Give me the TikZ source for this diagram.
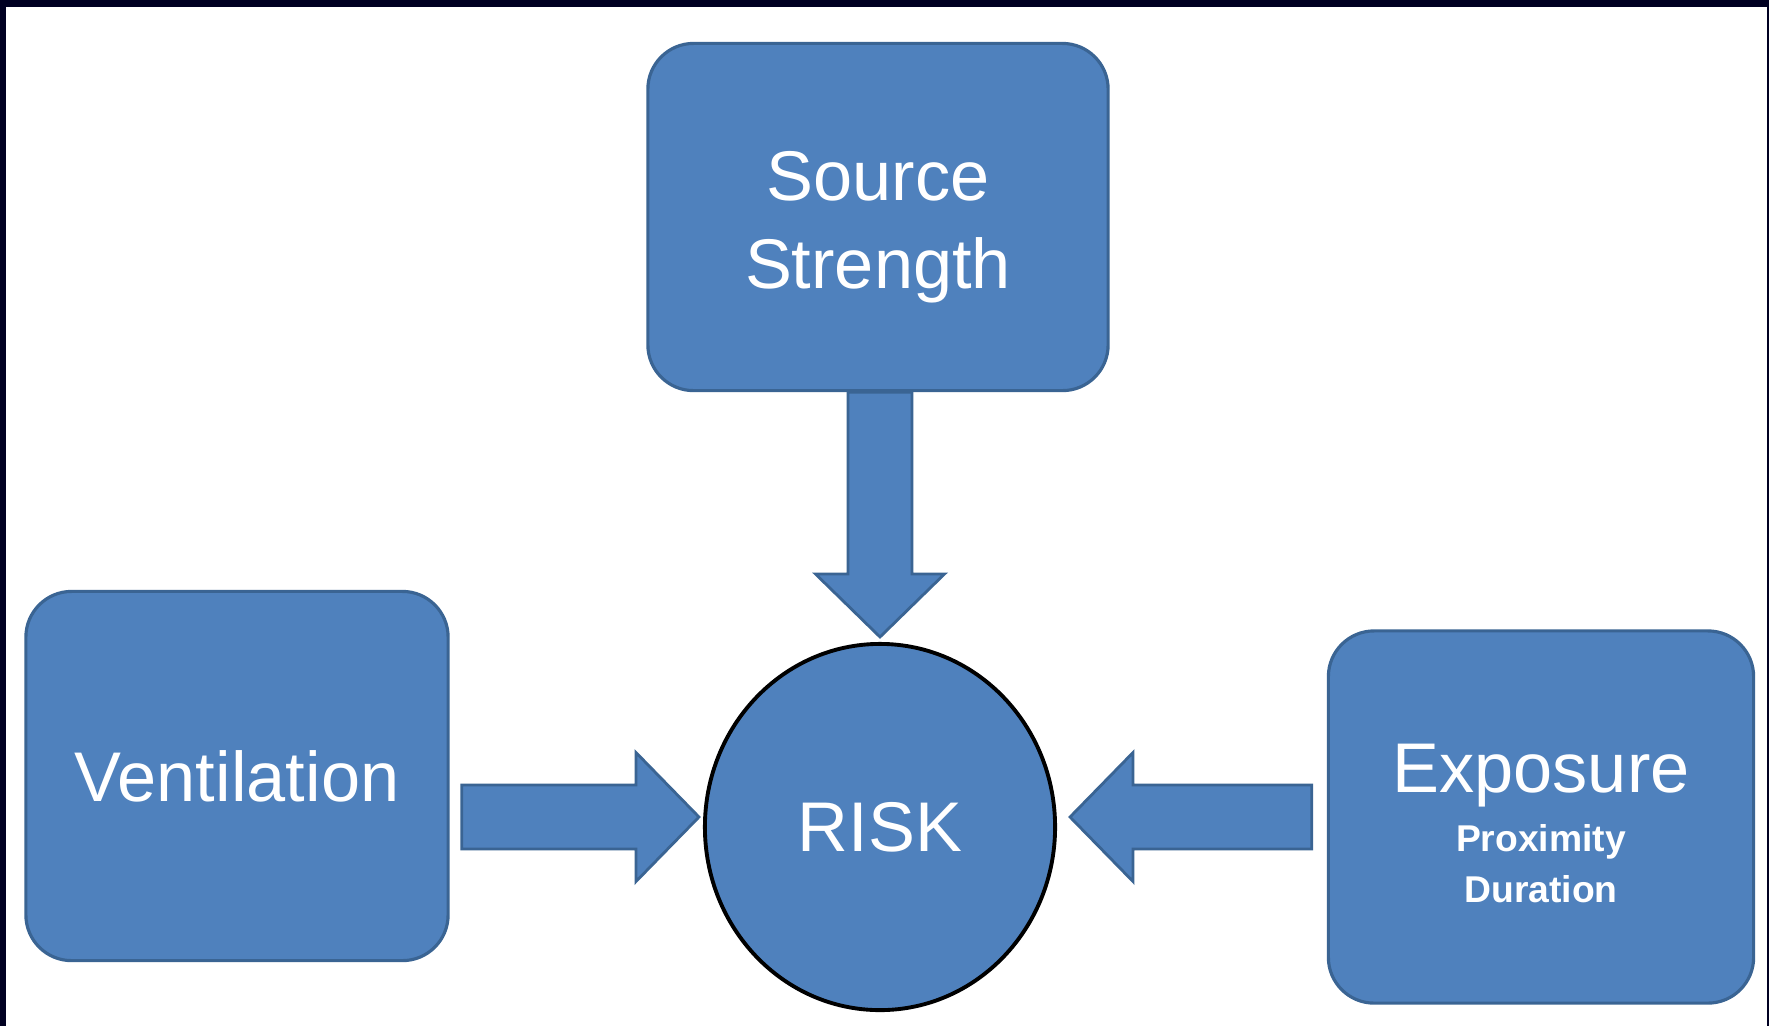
\documentclass[tikz,border=0pt]{standalone}
\usepackage{fontspec}
\setmainfont{Liberation Sans}
\usetikzlibrary{calc,shapes.geometric}

\definecolor{azulcaja}{HTML}{4F81BD}
\definecolor{bordecaja}{HTML}{3A6493}
\definecolor{marino}{HTML}{000066}
\definecolor{marinoosc}{HTML}{000022}

\begin{document}
\begin{tikzpicture}[x=0.01cm,y=-0.01cm,
    caja/.style={draw=bordecaja, line width=0.9pt, fill=azulcaja, rounded corners=13pt,
      text=white, align=center, font=\fontsize{20}{25}\selectfont},
    flecha/.style={draw=bordecaja, line width=0.8pt, fill=azulcaja, line join=miter}]

      % Marco de la figura
      \useasboundingbox (0,0) rectangle (1769,1026);
      \fill[white] (0,0) rectangle (1769,1026);
      \shade[left color=marinoosc, middle color=marino, right color=marinoosc] (0,0) rectangle (1769,6);
      \fill[marinoosc] (0,0) rectangle (6,1026);
      \fill[marinoosc] (1767,0) rectangle (1769,1026);

      % Parámetros de las flechas
      \def\semi{0.32cm} % Mitad del cuerpo
      \def\cabeza{0.645cm} % Mitad de la punta
      \def\largo{0.63cm} % Largo de la punta

      % Dibujar las cajas
      \node[caja, minimum width=4.6cm, minimum height=3.47cm] (fuente) at (878,217)
        {\rule{0pt}{20pt}Source\\Strength};
      \node[caja, minimum width=4.22cm, minimum height=3.69cm] (vent) at (237,776) {Ventilation};
      \node[caja, minimum width=4.25cm, minimum height=3.72cm,
        font=\fontsize{10.6}{14.4}\selectfont\bfseries] (expo) at (1541,817)
        {\rule{0pt}{17.5pt}{\fontsize{20}{14}\mdseries\selectfont Exposure}\\[2.3pt]Proximity\\Duration};

      % Dibujar el círculo
      \node[ellipse, draw=black, line width=1.1pt, fill=azulcaja, text=white,
        minimum width=3.5cm, minimum height=3.66cm,
        font=\fontsize{20}{24}\selectfont] (riesgo) at (880,827) {RISK};

      % Puntos de las flechas
      \coordinate (c1) at (riesgo.north |- fuente.south);
      \coordinate (p1) at ($(riesgo.north)+(0,-5)$);
      \coordinate (p2) at ($(riesgo.west)+(-4,-10)$);
      \coordinate (c2) at ($(vent.east |- p2)+(12,0)$);
      \coordinate (p3) at ($(riesgo.east)+(13,-10)$);
      \coordinate (c3) at ($(expo.west |- p3)+(-15,0)$);

      % Dibujar las flechas
      \foreach \cola/\punta in {c1/p1, c2/p2, c3/p3} {
        \coordinate (base) at ($(\punta)!\largo!(\cola)$);
        \draw[flecha] ($(\cola)!\semi!90:(\punta)$) -- ($(base)!\semi!90:(\punta)$)
          -- ($(base)!\cabeza!90:(\punta)$) -- (\punta)
          -- ($(base)!\cabeza!-90:(\punta)$) -- ($(base)!\semi!-90:(\punta)$)
          -- ($(\cola)!\semi!-90:(\punta)$) -- cycle;
      }

    \end{tikzpicture}
\end{document}
